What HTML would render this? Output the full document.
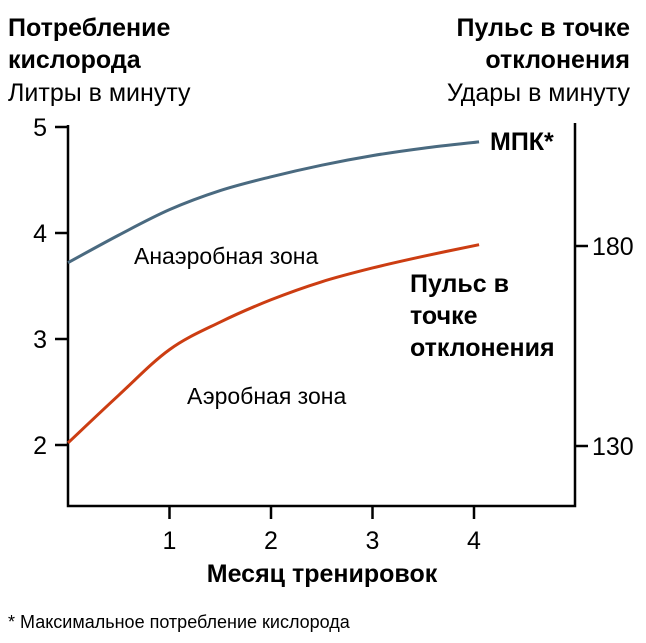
<!DOCTYPE html>
<html><head><meta charset="utf-8"><style>
body{margin:0;background:#fff;}
svg{display:block;font-family:"Liberation Sans",sans-serif;}
</style></head><body>
<svg id="chart" width="646" height="643" viewBox="0 0 646 643">
<g font-size="25" fill="#000">
<text x="8" y="36" font-weight="bold">Потребление</text>
<text x="8" y="68" font-weight="bold">кислорода</text>
<text x="8" y="101">Литры в минуту</text>
<text x="630" y="36" font-weight="bold" text-anchor="end">Пульс в точке</text>
<text x="630" y="68" font-weight="bold" text-anchor="end">отклонения</text>
<text x="630" y="101" text-anchor="end">Удары в минуту</text>
<text x="322" y="582" font-weight="bold" text-anchor="middle">Месяц тренировок</text>
<text x="8" y="628" font-size="18">* Максимальное  потребление  кислорода</text>
<text x="490" y="150" font-weight="bold">МПК*</text>
<text x="410" y="292" font-weight="bold">Пульс в</text>
<text x="410" y="324" font-weight="bold">точке</text>
<text x="410" y="356" font-weight="bold">отклонения</text>
<text x="134" y="264" font-size="23">Анаэробная зона</text>
<text x="187" y="404" font-size="23">Аэробная зона</text>
</g>
<g id="axes" stroke="#000" stroke-width="2.5" fill="none">
<path d="M68,125 V506 H575 V123"/>
</g>
<g id="ticks"></g>
<g id="series"></g>
</svg>
<script>
const months=[0,0.5,1,1.5,2,2.5,3,3.5,4.05];
const vo2max=[3.72,3.98,4.22,4.4,4.53,4.64,4.73,4.8,4.86];
const threshold=[2.02,2.47,2.9,3.16,3.37,3.54,3.67,3.78,3.89];
const xTicks=[1,2,3,4];
const yTicks=[2,3,4,5];
const rTicks=[130,180];
const NS='http://www.w3.org/2000/svg';
const X=v=>68+v*101.5;
const Y=v=>445-(v-2)*106;
const R=v=>446-(v-130)*4;
const tk=document.getElementById('ticks'),sr=document.getElementById('series');
function mk(t,a,p){const e=document.createElementNS(NS,t);for(const k in a)e.setAttribute(k,a[k]);p.appendChild(e);return e;}
xTicks.forEach(v=>{
 const l=mk('line',{x1:X(v),x2:X(v),y1:506,y2:519,stroke:'#000','stroke-width':2.5},tk);
 
 
 const t=mk('text',{x:X(v),y:549,'text-anchor':'middle','font-size':25},tk);t.textContent=v;
 
 
});
yTicks.forEach(v=>{
 const l=mk('line',{x1:55,x2:68,y1:Y(v),y2:Y(v),stroke:'#000','stroke-width':2.5},tk);
 
 
 const t=mk('text',{x:47,y:Y(v)+9,'text-anchor':'end','font-size':25},tk);t.textContent=v;
 
 
});
rTicks.forEach(v=>{
 const l=mk('line',{x1:575,x2:588,y1:R(v),y2:R(v),stroke:'#000','stroke-width':2.5},tk);
 
 
 const t=mk('text',{x:592,y:R(v)+9,'font-size':25},tk);t.textContent=v;
 
 
});
function path(xs,ys){
 const p=xs.map((x,i)=>[X(x),Y(ys[i])]);
 let d='M'+p[0][0]+','+p[0][1];
 for(let i=0;i<p.length-1;i++){
  const p0=p[Math.max(i-1,0)],p1=p[i],p2=p[i+1],p3=p[Math.min(i+2,p.length-1)];
  const c1=[p1[0]+(p2[0]-p0[0])/6,p1[1]+(p2[1]-p0[1])/6];
  const c2=[p2[0]-(p3[0]-p1[0])/6,p2[1]-(p3[1]-p1[1])/6];
  d+=' C'+c1+' '+c2+' '+p2;
 }
 return d;
}
const b=mk('path',{d:path(months,vo2max),stroke:'#4a6a80','stroke-width':3,fill:'none'},sr);


const r=mk('path',{d:path(months,threshold),stroke:'#cc3d12','stroke-width':3,fill:'none'},sr);


</script>
</body></html>
